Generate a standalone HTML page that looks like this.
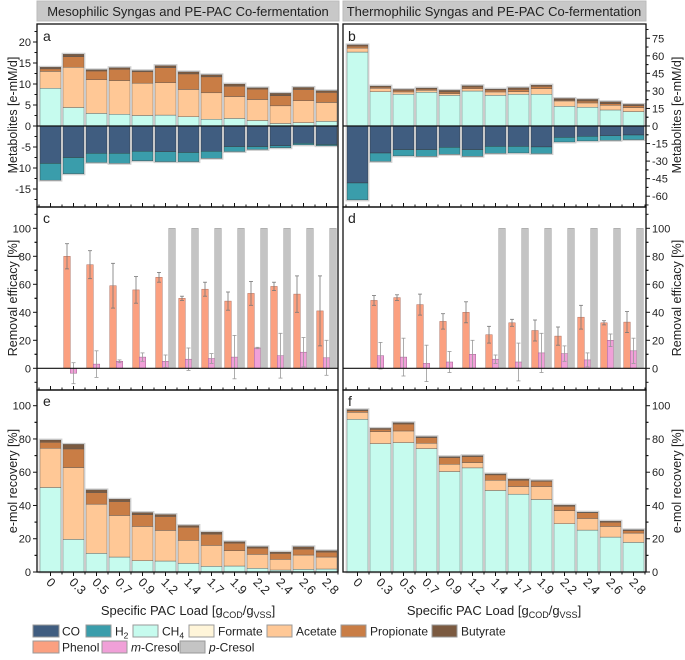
<!DOCTYPE html>
<html><head><meta charset="utf-8"><style>
body{margin:0;background:#fff;font-family:"Liberation Sans",sans-serif}
svg text{font-family:"Liberation Sans",sans-serif;fill:#222}
</style></head><body>
<svg id="chart" width="685" height="655" viewBox="0 0 685 655" xmlns="http://www.w3.org/2000/svg">
<rect x="37" y="1" width="302" height="20" fill="#c8c8c8" stroke="#bbb"/>
<text x="188" y="16" font-size="13" text-anchor="middle">Mesophilic Syngas and PE-PAC Co-fermentation</text>
<rect x="343" y="1" width="303" height="20" fill="#c8c8c8" stroke="#bbb"/>
<text x="494" y="16" font-size="13" text-anchor="middle">Thermophilic Syngas and PE-PAC Co-fermentation</text>
<g id="plots"></g>
</svg>
<script>
const categories=["0","0.3","0.5","0.7","0.9","1.2","1.4","1.7","1.9","2.2","2.4","2.6","2.8"];
// panel a (e-mM/d)
const aCH4=[9.0,4.4,3.0,2.8,2.5,2.6,2.2,1.6,1.8,1.3,0.6,0.8,1.1];
const aAcetate=[4.0,9.6,8.0,8.0,7.7,7.7,6.5,6.3,5.2,5.0,4.2,5.2,4.5];
const aPropionate=[0.6,2.5,2.1,2.7,2.7,3.6,3.7,3.8,2.5,2.5,2.4,2.7,2.4];
const aButyrate=[0.4,0.6,0.3,0.4,0.3,0.5,0.5,0.5,0.5,0.3,0.6,0.5,0.4];
const aCO=[8.9,7.5,6.5,6.5,6.0,6.1,6.3,6.0,4.9,4.9,4.7,4.1,4.4];
const aH2=[4.0,3.9,2.2,2.4,2.3,2.4,2.2,1.7,1.2,0.7,0.5,0.4,0.3];
// panel b
const bCH4=[63.2,29.3,27.1,28.8,26.2,29.9,26.2,27.1,27.1,16.8,16.0,13.7,12.3];
const bAcetate=[3.4,2.9,2.0,1.7,1.4,2.0,2.9,2.2,4.8,4.6,3.7,4.0,3.4];
const bPropionate=[1.7,1.1,1.4,1.1,1.5,1.4,1.7,2.0,2.0,0.8,1.7,1.4,1.7];
const bButyrate=[1.1,0.9,0.8,0.9,1.4,1.2,0.8,1.5,1.1,1.4,1.4,1.7,1.1];
const bCO=[48.7,23.1,20.2,20.2,18.2,20.2,17.4,17.4,17.9,9.7,8.8,8.3,7.7];
const bH2=[14.5,7.2,5.4,5.7,6.0,5.7,6.0,5.7,5.7,4.0,4.0,4.0,4.0];
// panel c/d removal efficacy (categories 1..12)
const cPhenol=[80,74,59,56,65,50,56.5,48,53.5,58.5,53,41];
const cPhenolErr=[9,10,16,9.5,3.5,1.5,5,6.5,8.5,3,13,25];
const cMCresol=[-3.5,3,5,8,5,6.5,7,8,14.5,9,11.5,7.5];
const cMCresolErr=[7.5,9.5,1,3,4.5,8,3.5,15.5,0.5,16,10.5,12.5];
const cPCresol=[null,null,null,null,100,100,100,100,100,100,100,100];
const dPhenol=[48.5,50.5,45.5,33.5,40,24,32.5,27,23,36.5,32.5,33];
const dPhenolErr=[3.5,2,7.5,5.5,7.5,6,2.5,7.5,6.5,8.5,1.5,7.5];
const dMCresol=[9,8,3.5,4.5,10,6.5,4.5,11,10.5,6,20,12.5];
const dMCresolErr=[9.5,13.5,13,7.5,10,3,13.5,14,5.5,5,4.5,9];
const dPCresol=[null,null,null,null,null,100,100,100,100,100,100,100];
// panel e/f e-mol recovery
const eCH4=[50.8,19.6,11.2,9.0,6.8,6.6,5.2,3.4,3.6,2.2,1.2,1.6,1.8];
const eAcetate=[23.6,43.2,29.6,25.0,20.6,18.4,13.8,12.6,9.2,8.4,6.4,8.6,7.2];
const ePropionate=[3.6,11.2,7.0,8.4,7.0,8.4,8.0,6.8,4.6,3.8,3.6,3.6,3.0];
const eButyrate=[1.4,2.8,1.6,1.4,1.4,1.2,1.0,1.2,0.8,0.8,0.8,1.4,0.8];
const fCH4=[91.8,77.2,77.8,74.2,60.4,62.6,49.0,46.8,43.6,29.0,25.2,21.0,17.8];
const fAcetate=[4.2,7.2,7.0,3.2,4.4,3.2,6.2,4.6,7.8,7.8,7.0,6.4,5.6];
const fPropionate=[1.0,1.4,4.2,3.4,4.0,3.6,3.2,3.8,3.2,2.8,3.4,2.6,1.4];
const fButyrate=[0.6,0.6,0.8,0.6,0.6,0.6,0.6,0.6,0.4,0.6,0.4,0.6,0.6];
const aTicks=[-15,-10,-5,0,5,10,15,20];
const bTicks=[-60,-45,-30,-15,0,15,30,45,60,75];
const cTicks=[0,20,40,60,80,100];
const eTicks=[0,20,40,60,80,100];

const C={CO:"#405d80",H2:"#3a9dab",CH4:"#c6fbee",Formate:"#fff5d9",Acetate:"#ffc896",Propionate:"#c97d45",Butyrate:"#7b5a40",Phenol:"#fba080",MCresol:"#f0a0d8",PCresol:"#c4c4c4"};
const NS="http://www.w3.org/2000/svg";
const root=document.getElementById('plots');
function mk(tag,attrs,parent){const e=document.createElementNS(NS,tag);for(const k in attrs)e.setAttribute(k,attrs[k]);(parent||root).appendChild(e);return e;}
const L={x0:37,x1:338,c0:50.5},R={x0:343,x1:646,c0:357.5};
const step=23,bw=21;
function xc(side,i){return side.c0+step*i;}
const yA=v=>126-v*4.2, yB=v=>126-v*1.17, yC=v=>368.3-v*1.4, yE=v=>572-v*1.663;

function stacked(side,ys,pos,neg,name){
  for(let i=0;i<categories.length;i++){
    const x=xc(side,i)-bw/2;
    let acc=0;
    const g=mk('g',{});
    
    
    for(const [arr,col,key] of pos){
      const v=arr[i];const y1=ys(acc),y2=ys(acc+v);
      const r=mk('rect',{x:x,y:y2,width:bw,height:Math.max(0,y1-y2),fill:col,stroke:'#555','stroke-width':0.4},g);
      
      
      acc+=v;
    }
    const top=ys(acc);
    let nacc=0;
    for(const [arr,col,key] of neg){
      const v=arr[i];const y1=ys(-nacc),y2=ys(-(nacc+v));
      const r=mk('rect',{x:x,y:y1,width:bw,height:Math.max(0,y2-y1),fill:col,stroke:'#333','stroke-width':0.4},g);
      
      
      nacc+=v;
    }
    const bot=ys(-nacc);
    mk('rect',{x:x-0.8,y:top-0.8,width:bw+1.6,height:bot-top+1.6,fill:'none',stroke:'#cfcfcf','stroke-width':1.2},g);
  }
}
function frame(side,yt,yb,name){
  const r=mk('rect',{x:side.x0,y:yt,width:side.x1-side.x0,height:yb-yt,fill:'none',stroke:'#111','stroke-width':1.3});
  
  
}
function yaxis(side,ys,ticks,yt,yb,left,name){
  const x=left?side.x0:side.x1, d=left?-1:1;
  const g=mk('g',{});
  
  
  const s=ticks[1]-ticks[0];
  for(let k=0;k<ticks.length;k++){
    const t=ticks[k];const y=ys(t);
    mk('line',{x1:x,x2:x+d*4,y1:y,y2:y,stroke:'#111','stroke-width':1},g);
    const tx=mk('text',{x:x+d*6,y:y+4,'font-size':11,'text-anchor':left?'end':'start'},g);
    tx.textContent=t;
    for(const m of [t-s/2,t+s/2]){const ym=ys(m);if(ym>yt+1&&ym<yb-1)mk('line',{x1:x,x2:x+d*2.5,y1:ym,y2:ym,stroke:'#111','stroke-width':1},g);}
  }
}
function xticksTop(side,y){
  for(let i=0;i<categories.length;i++){
    mk('line',{x1:xc(side,i),x2:xc(side,i),y1:y,y2:y-4,stroke:'#111','stroke-width':1});
    mk('line',{x1:xc(side,i)+step/2,x2:xc(side,i)+step/2,y1:y,y2:y-2.5,stroke:'#111','stroke-width':1});
  }
  mk('line',{x1:xc(side,0)-step/2,x2:xc(side,0)-step/2,y1:y,y2:y-2.5,stroke:'#111','stroke-width':1});
}
function zero(side,y){mk('line',{x1:side.x0,x2:side.x1,y1:y,y2:y,stroke:'#111','stroke-width':1.2});}
function errbar(x,y1,y2,col){
  mk('line',{x1:x,x2:x,y1:y1,y2:y2,stroke:col,'stroke-width':0.8});
  mk('line',{x1:x-2,x2:x+2,y1:y1,y2:y1,stroke:col,'stroke-width':0.8});
  mk('line',{x1:x-2,x2:x+2,y1:y2,y2:y2,stroke:col,'stroke-width':0.8});
}
function removal(side,ph,phE,mc,mcE,pc,name){
  const w=6.5;
  for(let j=0;j<ph.length;j++){
    const c=xc(side,j+1);
    let r=mk('rect',{x:c-6.5-w/2,y:yC(ph[j]),width:w,height:yC(0)-yC(ph[j]),fill:C.Phenol,stroke:'#b07060','stroke-width':0.5});
    
    
    errbar(c-6.5,yC(ph[j]+phE[j]),yC(ph[j]-phE[j]),'#777');
    const mv=mc[j];
    r=mk('rect',{x:c-w/2,y:Math.min(yC(mv),yC(0)),width:w,height:Math.abs(yC(0)-yC(mv)),fill:C.MCresol,stroke:'#a06090','stroke-width':0.5});
    
    
    errbar(c,yC(mv+mcE[j]),yC(mv-mcE[j]),'#999');
    if(pc[j]!==null){
      r=mk('rect',{x:c+6.5-w/2,y:yC(pc[j]),width:w,height:yC(0)-yC(pc[j]),fill:C.PCresol,stroke:'#999','stroke-width':0.5});
      
      
    }
  }
}
const posA=[[aCH4,C.CH4,'ch4'],[aAcetate,C.Acetate,'acetate'],[aPropionate,C.Propionate,'propionate'],[aButyrate,C.Butyrate,'butyrate']];
stacked(L,yA,posA,[[aCO,C.CO,'co'],[aH2,C.H2,'h2']],'panel-a');
zero(L,yA(0));frame(L,24,207,'panel-a');yaxis(L,yA,aTicks,24,207,true,'panel-a');
const posB=[[bCH4,C.CH4,'ch4'],[bAcetate,C.Acetate,'acetate'],[bPropionate,C.Propionate,'propionate'],[bButyrate,C.Butyrate,'butyrate']];
stacked(R,yB,posB,[[bCO,C.CO,'co'],[bH2,C.H2,'h2']],'panel-b');
mk('rect',{x:R.x0+0.7,y:207,width:R.x1-R.x0-1.4,height:3,fill:'#fff'});
zero(R,yB(0));frame(R,24,207,'panel-b');yaxis(R,yB,bTicks,24,207,false,'panel-b');
removal(L,cPhenol,cPhenolErr,cMCresol,cMCresolErr,cPCresol,'panel-c');
zero(L,yC(0));frame(L,207,390,'panel-c');yaxis(L,yC,cTicks,207,390,true,'panel-c');xticksTop(L,207);
removal(R,dPhenol,dPhenolErr,dMCresol,dMCresolErr,dPCresol,'panel-d');
zero(R,yC(0));frame(R,207,390,'panel-d');yaxis(R,yC,cTicks,207,390,false,'panel-d');xticksTop(R,207);
stacked(L,yE,[[eCH4,C.CH4,'ch4'],[eAcetate,C.Acetate,'acetate'],[ePropionate,C.Propionate,'propionate'],[eButyrate,C.Butyrate,'butyrate']],[],'panel-e');
frame(L,390,572,'panel-e');yaxis(L,yE,eTicks,390,572,true,'panel-e');xticksTop(L,390);
stacked(R,yE,[[fCH4,C.CH4,'ch4'],[fAcetate,C.Acetate,'acetate'],[fPropionate,C.Propionate,'propionate'],[fButyrate,C.Butyrate,'butyrate']],[],'panel-f');
frame(R,390,572,'panel-f');yaxis(R,yE,eTicks,390,572,false,'panel-f');xticksTop(R,390);
for(const [side,nm] of [[L,'left'],[R,'right']]){
  for(let i=0;i<categories.length;i++){
    const c=xc(side,i);
    mk('line',{x1:c,x2:c,y1:572,y2:576,stroke:'#111','stroke-width':1});
    mk('line',{x1:c+step/2,x2:c+step/2,y1:572,y2:574.5,stroke:'#111','stroke-width':1});
    const t=mk('text',{x:c-5,y:583,'font-size':12.5,transform:'rotate(45 '+(c-5)+' 583)'});
    
    
    t.textContent=categories[i];
  }
}
const letters=[['a',L.x0+6,41],['b',R.x0+5,41],['c',L.x0+6,223],['d',R.x0+5,223],['e',L.x0+6,406],['f',R.x0+5,406]];
for(const [l,x,y] of letters){const t=mk('text',{x:x,y:y,'font-size':14});t.textContent=l;}
</script>
<svg style="position:absolute;left:0;top:0" width="685" height="655">
<g font-size="12.5" fill="#222" font-family="Liberation Sans, sans-serif">
<text transform="translate(17 115) rotate(-90)" text-anchor="middle">Metabolites [e-mM/d]</text>
<text transform="translate(17 298) rotate(-90)" text-anchor="middle">Removal efficacy [%]</text>
<text transform="translate(17 481) rotate(-90)" text-anchor="middle">e-mol recovery [%]</text>
<text transform="translate(681 115) rotate(-90)" text-anchor="middle">Metabolites [e-mM/d]</text>
<text transform="translate(681 298) rotate(-90)" text-anchor="middle">Removal efficacy [%]</text>
<text transform="translate(681 481) rotate(-90)" text-anchor="middle">e-mol recovery [%]</text>
<text x="188" y="615" font-size="13" text-anchor="middle">Specific PAC Load [g<tspan font-size="9" dy="3">COD</tspan><tspan dy="-3">/g</tspan><tspan font-size="9" dy="3">VSS</tspan><tspan dy="-3">]</tspan></text>
<text x="494" y="615" font-size="13" text-anchor="middle">Specific PAC Load [g<tspan font-size="9" dy="3">COD</tspan><tspan dy="-3">/g</tspan><tspan font-size="9" dy="3">VSS</tspan><tspan dy="-3">]</tspan></text>
</g>
<g font-size="12" fill="#222" font-family="Liberation Sans, sans-serif">
<rect x="33" y="625" width="26" height="12" fill="#405d80" stroke="#999"/><text x="62" y="635.5">CO</text>
<rect x="86" y="625" width="25" height="12" fill="#3a9dab" stroke="#999"/><text x="115" y="635.5">H<tspan font-size="8.5" dy="3">2</tspan></text>
<rect x="133" y="625" width="25" height="12" fill="#c6fbee" stroke="#999"/><text x="162" y="635.5">CH<tspan font-size="8.5" dy="3">4</tspan></text>
<rect x="189" y="625" width="25" height="12" fill="#fff5d9" stroke="#999"/><text x="218" y="635.5">Formate</text>
<rect x="267" y="625" width="25" height="12" fill="#ffc896" stroke="#999"/><text x="296" y="635.5">Acetate</text>
<rect x="341" y="625" width="25" height="12" fill="#c97d45" stroke="#999"/><text x="370" y="635.5">Propionate</text>
<rect x="432" y="625" width="25" height="12" fill="#7b5a40" stroke="#999"/><text x="461" y="635.5">Butyrate</text>
<rect x="33" y="641" width="26" height="12" fill="#fba080" stroke="#999"/><text x="62" y="651.5">Phenol</text>
<rect x="102" y="641" width="25" height="12" fill="#f0a0d8" stroke="#999"/><text x="131" y="651.5"><tspan font-style="italic">m</tspan>-Cresol</text>
<rect x="180" y="641" width="25" height="12" fill="#c4c4c4" stroke="#999"/><text x="209" y="651.5"><tspan font-style="italic">p</tspan>-Cresol</text>
</g>
</svg>
</body></html>
